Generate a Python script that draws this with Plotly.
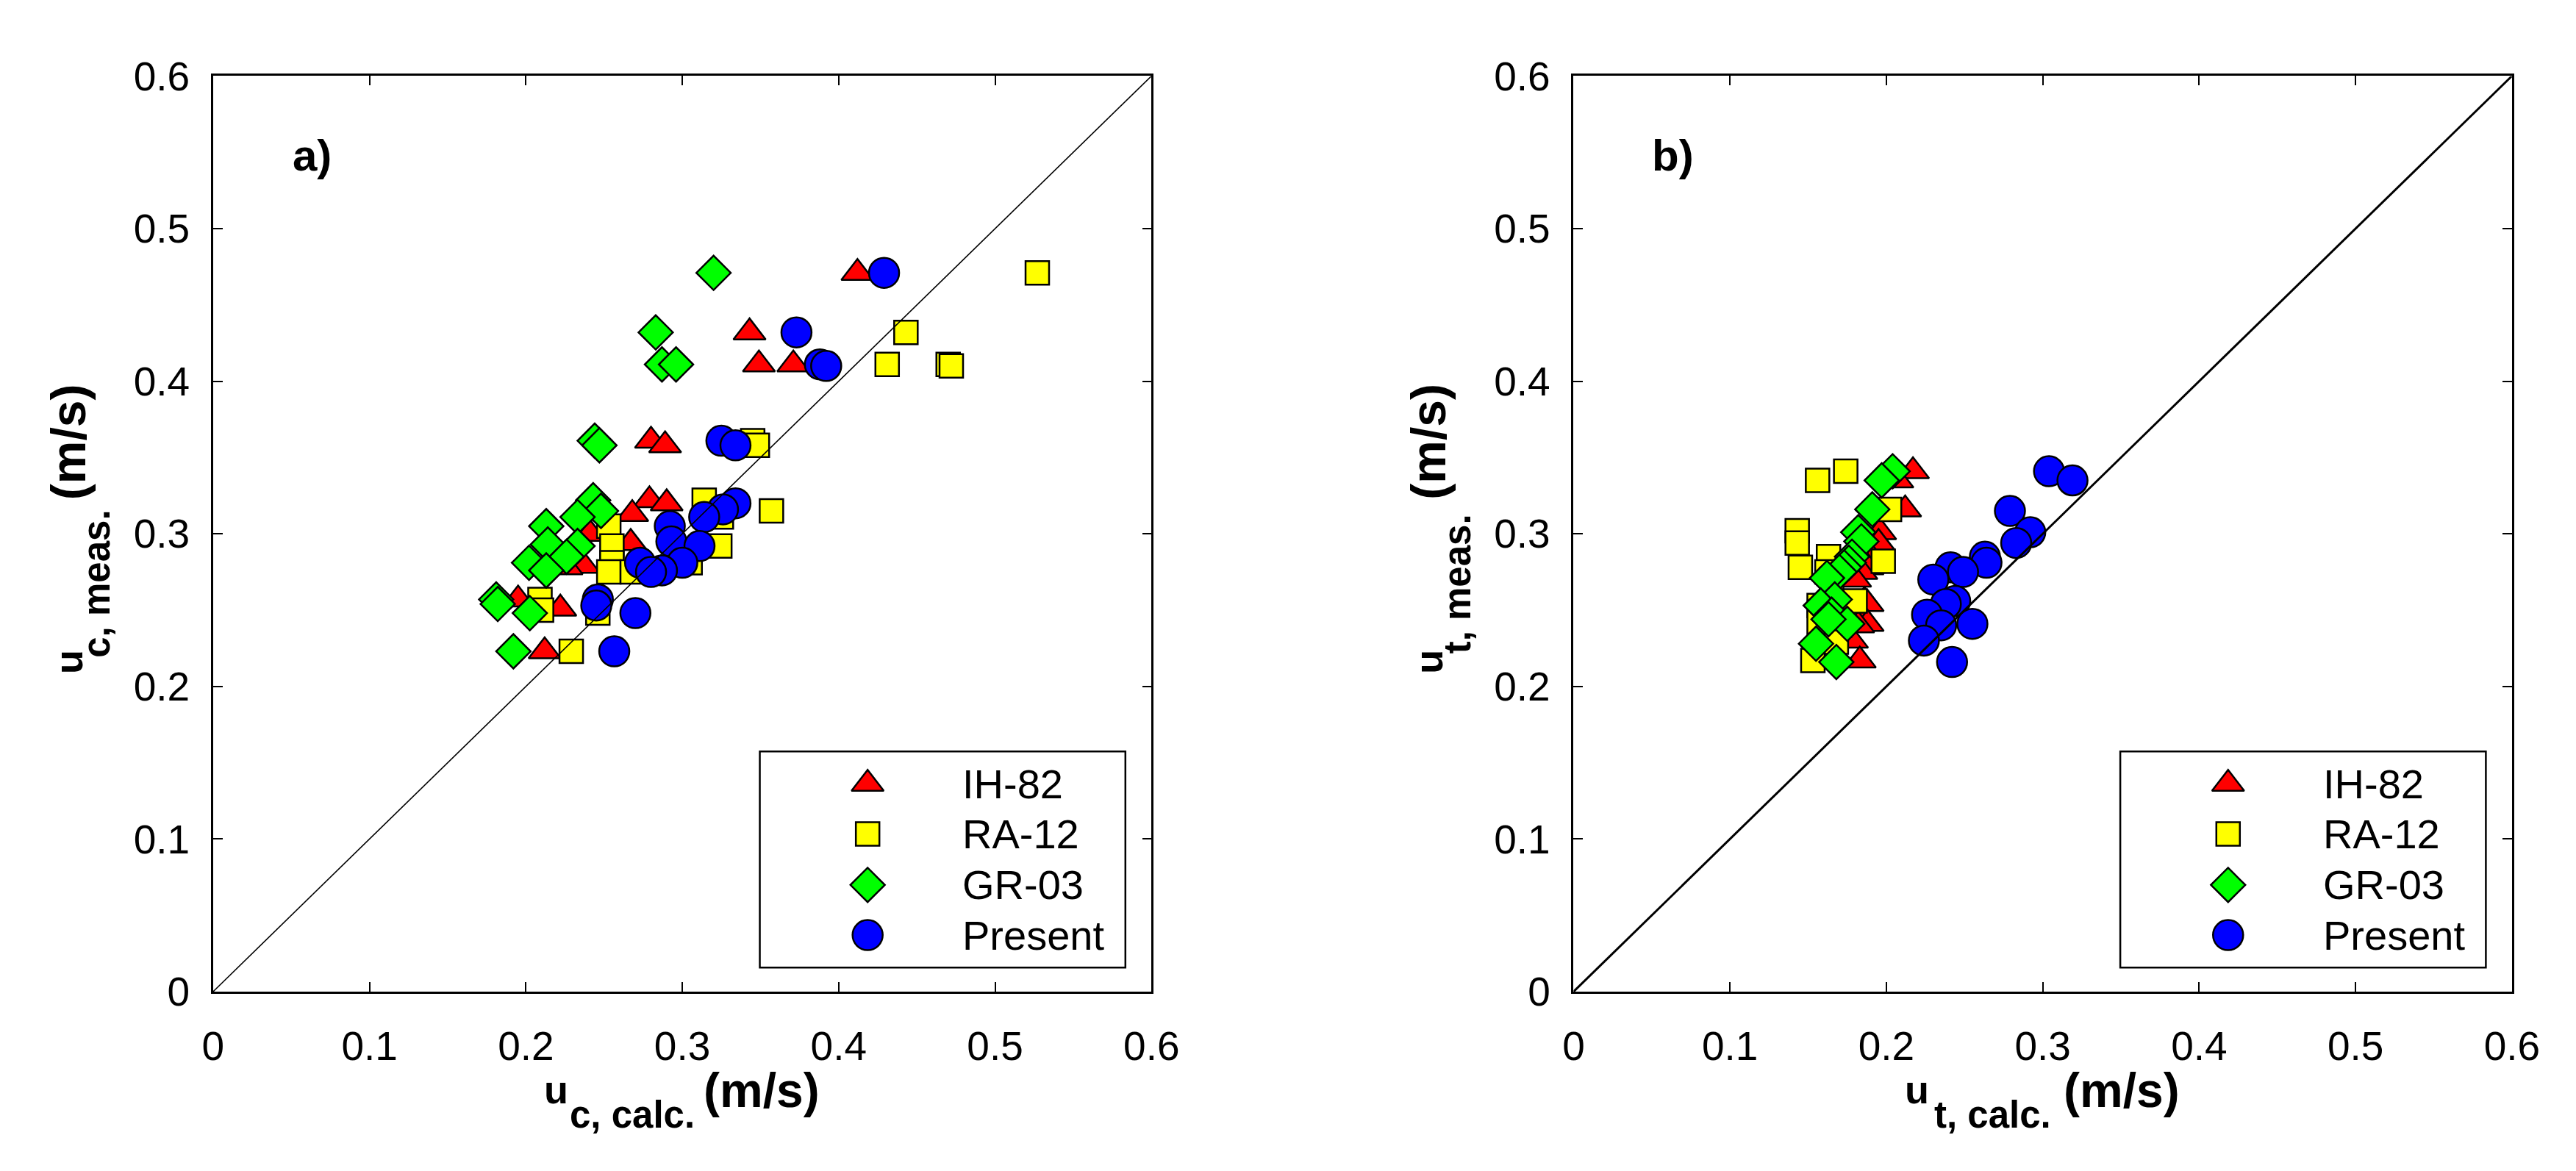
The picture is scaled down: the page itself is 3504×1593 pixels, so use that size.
import plotly.graph_objects as go

# ---------------- data: panel a (u_c) ----------------
IH82_A_X = [0.412, 0.343, 0.349, 0.371, 0.280, 0.289, 0.279, 0.290, 0.268, 0.241, 0.267, 0.237, 0.226, 0.222, 0.206, 0.195, 0.212]
IH82_A_Y = [0.471, 0.432, 0.411, 0.411, 0.361, 0.358, 0.322, 0.320, 0.313, 0.300, 0.294, 0.279, 0.278, 0.251, 0.253, 0.257, 0.223]

RA12_A_X = [0.527, 0.443, 0.431, 0.470, 0.472, 0.345, 0.348, 0.314, 0.357, 0.325, 0.324, 0.253, 0.255, 0.255, 0.253, 0.268, 0.305, 0.209, 0.210, 0.246, 0.229]
RA12_A_Y = [0.471, 0.432, 0.411, 0.411, 0.410, 0.361, 0.358, 0.322, 0.315, 0.311, 0.292, 0.305, 0.292, 0.281, 0.275, 0.275, 0.281, 0.257, 0.250, 0.248, 0.223]

GR03_A_X = [0.320, 0.283, 0.287, 0.296, 0.244, 0.247, 0.243, 0.248, 0.233, 0.213, 0.214, 0.233, 0.226, 0.202, 0.213, 0.181, 0.182, 0.2025, 0.192]
GR03_A_Y = [0.471, 0.432, 0.411, 0.411, 0.361, 0.358, 0.322, 0.315, 0.311, 0.305, 0.293, 0.292, 0.285, 0.281, 0.276, 0.257, 0.254, 0.248, 0.223]

PRES_A_X = [0.429, 0.373, 0.388, 0.392, 0.325, 0.334, 0.334, 0.326, 0.314, 0.292, 0.293, 0.311, 0.273, 0.300, 0.287, 0.280, 0.246, 0.245, 0.270, 0.2565]
PRES_A_Y = [0.471, 0.432, 0.411, 0.410, 0.361, 0.358, 0.320, 0.316, 0.311, 0.305, 0.295, 0.292, 0.281, 0.281, 0.276, 0.275, 0.257, 0.253, 0.248, 0.223]

# ---------------- data: panel b (u_t) ----------------
IH82_B_X = [0.217, 0.207, 0.212, 0.196, 0.195, 0.190, 0.185, 0.188, 0.184, 0.180, 0.186, 0.188, 0.183, 0.188, 0.182, 0.178, 0.183]
IH82_B_Y = [0.341, 0.335, 0.316, 0.301, 0.294, 0.285, 0.281, 0.278, 0.275, 0.270, 0.256, 0.254, 0.247, 0.241, 0.240, 0.230, 0.217]

RA12_B_X = [0.174, 0.156, 0.202, 0.143, 0.143, 0.163, 0.198, 0.145, 0.162, 0.165, 0.180, 0.157, 0.160, 0.157, 0.170, 0.168, 0.153]
RA12_B_Y = [0.341, 0.335, 0.316, 0.302, 0.294, 0.285, 0.282, 0.278, 0.275, 0.270, 0.256, 0.253, 0.247, 0.242, 0.240, 0.229, 0.217]

GR03_B_X = [0.204, 0.197, 0.191, 0.182, 0.184, 0.178, 0.176, 0.173, 0.170, 0.162, 0.167, 0.158, 0.165, 0.175, 0.163, 0.155, 0.168]
GR03_B_Y = [0.341, 0.335, 0.316, 0.301, 0.295, 0.285, 0.281, 0.278, 0.275, 0.271, 0.257, 0.253, 0.247, 0.241, 0.244, 0.228, 0.216]

PRES_B_X = [0.304, 0.319, 0.279, 0.292, 0.283, 0.263, 0.264, 0.241, 0.249, 0.230, 0.244, 0.238, 0.226, 0.255, 0.235, 0.224, 0.242]
PRES_B_Y = [0.341, 0.335, 0.315, 0.301, 0.294, 0.285, 0.281, 0.278, 0.275, 0.270, 0.256, 0.254, 0.247, 0.241, 0.240, 0.230, 0.216]

SERIES_NAMES = ["IH-82", "RA-12", "GR-03", "Present"]
AXIS_RANGE = [0, 0.6]
TICKS = [0, 0.1, 0.2, 0.3, 0.4, 0.5, 0.6]
TICK_TEXT = ["0", "0.1", "0.2", "0.3", "0.4", "0.5", "0.6"]

# ---------------- styling ----------------
W, H = 3504, 1593
FONT = "Liberation Sans, Arial, Helvetica, sans-serif"
AX_LEFT = {"a": 271, "b": 2150}
AX_SIZE = 1296
AX_TOP, AX_BOTTOM = 67, 1363
DOM_XA = [AX_LEFT["a"] / W, (AX_LEFT["a"] + AX_SIZE) / W]
DOM_XB = [AX_LEFT["b"] / W, (AX_LEFT["b"] + AX_SIZE) / W]
DOM_Y = [(H - AX_BOTTOM) / H, (H - AX_TOP) / H]

STYLE = {
    "IH-82": dict(symbol="triangle-up", color="#FF0000", size=38),
    "RA-12": dict(symbol="square", color="#FFFF00", size=32),
    "GR-03": dict(symbol="diamond", color="#00FF00", size=36),
    "Present": dict(symbol="circle", color="#0000FF", size=41),
}

data_a = {"IH-82": (IH82_A_X, IH82_A_Y), "RA-12": (RA12_A_X, RA12_A_Y),
          "GR-03": (GR03_A_X, GR03_A_Y), "Present": (PRES_A_X, PRES_A_Y)}
data_b = {"IH-82": (IH82_B_X, IH82_B_Y), "RA-12": (RA12_B_X, RA12_B_Y),
          "GR-03": (GR03_B_X, GR03_B_Y), "Present": (PRES_B_X, PRES_B_Y)}

fig = go.Figure()


def marker(name):
    s = STYLE[name]
    return dict(symbol=s["symbol"], color=s["color"], size=s["size"],
                line=dict(color="black", width=2.5))


for xa, ya, data, lw in (("x", "y", data_a, 1.6), ("x2", "y2", data_b, 3)):
    for name in SERIES_NAMES:
        xs, ys = data[name]
        fig.add_trace(go.Scatter(x=xs, y=ys, mode="markers", name=name,
                                 marker=marker(name), showlegend=False,
                                 xaxis=xa, yaxis=ya, hoverinfo="x+y"))
    # 1:1 reference line (drawn on top of the markers)
    fig.add_trace(go.Scatter(x=AXIS_RANGE, y=AXIS_RANGE, mode="lines",
                             line=dict(color="black", width=lw),
                             showlegend=False, xaxis=xa, yaxis=ya, hoverinfo="skip"))

# ---------------- custom legends (overlay axes in domain fractions) ----------------
LEG_BOX = dict(x0=0.5826, x1=0.9722, y0=0.0262, y1=0.2623)
LEG_ROWS = [0.2269, 0.1721, 0.1165, 0.0617]
LEG_SYM_X = 0.6975
LEG_TXT_X = 0.797

for ox, oy in (("x3", "y3"), ("x4", "y4")):
    for i, name in enumerate(SERIES_NAMES):
        fig.add_trace(go.Scatter(x=[LEG_SYM_X], y=[LEG_ROWS[i]], mode="markers",
                                 marker=marker(name), showlegend=False,
                                 xaxis=ox, yaxis=oy, hoverinfo="skip"))

axis_common = dict(range=AXIS_RANGE, tickmode="array", tickvals=TICKS, ticktext=TICK_TEXT,
                   ticks="inside", ticklen=13, tickwidth=2, tickcolor="black",
                   showline=True, linewidth=2.5, linecolor="black", mirror="allticks",
                   showgrid=False, zeroline=False,
                   tickfont=dict(family=FONT, size=55, color="black"))

overlay_common = dict(range=[0, 1], visible=False, showgrid=False, zeroline=False, fixedrange=True)

fig.update_layout(
    width=W, height=H,
    margin=dict(l=0, r=0, t=0, b=0),
    paper_bgcolor="white", plot_bgcolor="white",
    showlegend=False,
    xaxis=dict(domain=DOM_XA, anchor="y", ticklabelstandoff=24, **axis_common),
    yaxis=dict(domain=DOM_Y, anchor="x", ticklabelstandoff=18, **axis_common),
    xaxis2=dict(domain=DOM_XB, anchor="y2", ticklabelstandoff=24, **axis_common),
    yaxis2=dict(domain=DOM_Y, anchor="x2", ticklabelstandoff=18, **axis_common),
    xaxis3=dict(overlaying="x", anchor="y3", **overlay_common),
    yaxis3=dict(overlaying="y", anchor="x3", **overlay_common),
    xaxis4=dict(overlaying="x2", anchor="y4", **overlay_common),
    yaxis4=dict(overlaying="y2", anchor="x4", **overlay_common),
)

shapes = []
annotations = []


def ann(text, x, y, size, xanchor="center", yanchor="middle", angle=0, xref="paper", yref="paper"):
    annotations.append(dict(text=text, xref=xref, yref=yref, x=x, y=y,
                            xanchor=xanchor, yanchor=yanchor, textangle=angle,
                            showarrow=False, font=dict(family=FONT, size=size, color="black")))


for key, xr, yr, label in (("a", "x", "y", "a)"), ("b", "x2", "y2", "b)")):
    shapes.append(dict(type="rect", xref=f"{xr} domain", yref=f"{yr} domain",
                       line=dict(color="black", width=2.5), fillcolor="white",
                       layer="below", **LEG_BOX))
    for i, name in enumerate(SERIES_NAMES):
        ann(name, LEG_TXT_X, LEG_ROWS[i], 56, xanchor="left",
            xref=f"{xr} domain", yref=f"{yr} domain")
    ann(f"<b>{label}</b>", 0.1057, 0.913, 60, xref=f"{xr} domain", yref=f"{yr} domain")

# ---------------- axis titles: u (bold), low subscript, (m/s) ----------------
for key, sub in (("a", "c"), ("b", "t")):
    left = AX_LEFT[key]
    cx = left + AX_SIZE / 2          # px
    cy = (AX_TOP + AX_BOTTOM) / 2    # px
    # x-axis title (pixel positions converted to paper fractions)
    ann("<b>u</b>", (cx - 155) / W, 1 - 1501 / H, 54, xanchor="right")
    ann(f"<b>{sub}, calc.</b>", (cx - 69) / W, 1 - 1537 / H, 51)
    ann("<b>(m/s)</b>", (cx + 27) / W, 1 - 1502 / H, 66, xanchor="left")
    # y-axis title (rotated)
    ann("<b>u</b>", (left - 200) / W, 1 - (cy + 181) / H, 54, angle=-90)
    ann(f"<b>{sub}, meas.</b>", (left - 161) / W, 1 - (cy + 71) / H, 51, angle=-90)
    ann("<b>(m/s)</b>", (left - 200) / W, 1 - (cy - 130) / H, 66, angle=-90)

fig.update_layout(shapes=shapes, annotations=annotations)

fig.write_html("out.html")
